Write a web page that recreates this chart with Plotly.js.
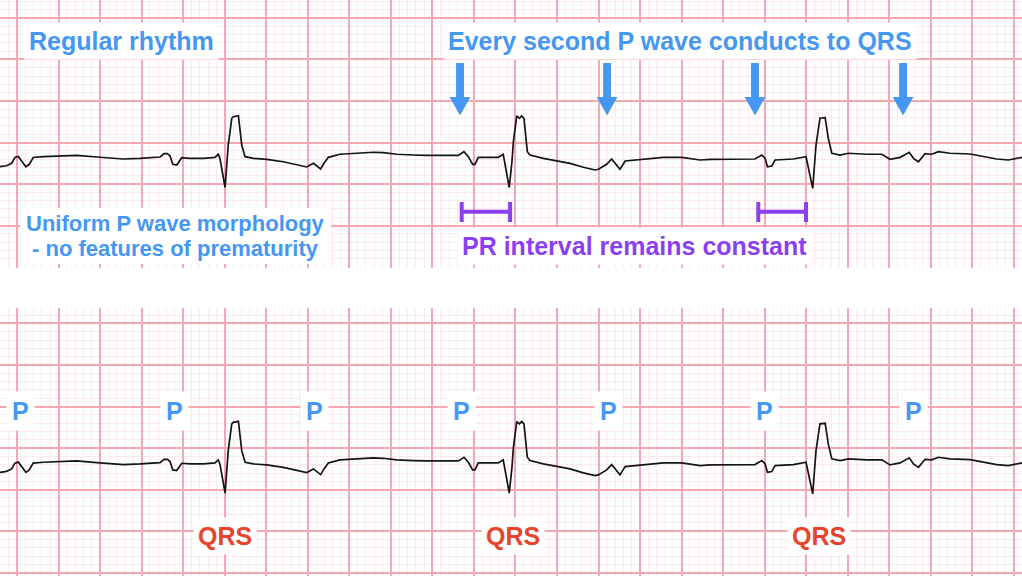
<!DOCTYPE html>
<html>
<head>
<meta charset="utf-8">
<script src="https://cdn.plot.ly/plotly-3.0.1.min.js"></script>
<style>
  html, body { margin: 0; padding: 0; background: #ffffff; }
  #chart { width: 1022px; height: 576px; }
</style>
</head>
<body>
<div id="chart"></div>
<script>
// ECG rhythm strip, time in ms, amplitude in mV
const timeMs = [-82, -50, -26, -10, 6, 18, 43, 59, 78, 127, 199, 287, 384, 448, 512, 592, 673, 689, 708, 724,
  737, 750, 769, 793, 833, 897, 953, 969, 977, 1002, 1017, 1034, 1041, 1058, 1066, 1082, 1098, 1138, 1202, 1282,
  1347, 1395, 1427, 1440, 1462, 1478, 1499, 1555, 1636, 1716, 1764, 1828, 1908, 1973, 2125, 2152, 2173, 2194, 2205, 2221,
  2262, 2317, 2341, 2358, 2370, 2383, 2390, 2406, 2419, 2430, 2441, 2457, 2470, 2534, 2599, 2663, 2727, 2783, 2799, 2839,
  2863, 2884, 2903, 2928, 2984, 3048, 3112, 3200, 3256, 3289, 3337, 3433, 3553, 3586, 3602, 3613, 3634, 3650, 3738, 3799,
  3815, 3831, 3847, 3866, 3891, 3906, 3923, 3963, 4003, 4091, 4164, 4203, 4252, 4296, 4316, 4340, 4372, 4404, 4436, 4492,
  4589, 4653, 4717, 4773, 4839];
const voltageMv = [-0.105, -0.093, -0.064, 0.006, 0.018, -0.024, -0.105, -0.076, 0.006, 0.016, 0.024, 0.032, 0.012, -0.004, -0.012, -0.004, 0.004, 0.012, 0.052, 0.052,
  0.024, -0.076, -0.084, 0.004, -0.004, -0.004, 0.008, 0.045, -0.004, -0.355, 0.156, 0.478, 0.497, 0.506, 0.509, 0.156, 0.016, -0.004, -0.016, -0.045,
  -0.076, -0.108, -0.064, -0.093, -0.132, -0.064, 0.008, 0.045, 0.060, 0.069, 0.064, 0.045, 0.036, 0.032, 0.032, 0.076, 0.016, -0.076, -0.076, 0.008,
  0.008, 0.008, 0.045, -0.165, -0.355, -0.045, 0.196, 0.506, 0.478, 0.506, 0.478, 0.076, 0.036, -0.004, -0.036, -0.064, -0.112, -0.144, -0.136, -0.076,
  -0.012, -0.084, -0.136, -0.036, -0.024, -0.012, 0.008, 0.008, -0.012, -0.024, -0.016, -0.016, -0.012, 0.036, -0.004, -0.105, -0.096, -0.024, -0.012, 0.016,
  -0.165, -0.365, 0.156, 0.478, 0.485, 0.237, 0.057, 0.036, 0.057, 0.045, 0.045, -0.016, 0.008, 0.069, -0.004, -0.045, 0.052, 0.045, 0.076, 0.057,
  0.048, 0.016, -0.012, -0.024, 0.008];

// Annotation anchors (ms)
const pWaveTimes = [18, 756, 1430, 2141, 2847, 3601, 4315];
const qrsTimes = [1001, 2387, 3863];
const arrowTimes = [2133, 2841, 3553, 4266];
const prStart = [2141, 3569];
const prEnd = [2374, 3799];

const BLUE = '#4597f2';
const PURPLE = '#8b3ff2';
const RED = '#e8432b';
const FONT = 'Liberation Sans, Arial, Helvetica, sans-serif';

const MAJOR = '#f4a8b1';
const MINOR = '#fde9ed';

function xAxis(anchor) {
  return {
    anchor: anchor, domain: [0, 1], range: [-81.85, 4838.7],
    tick0: 0, dtick: 200, showgrid: true, gridcolor: MAJOR, gridwidth: 2,
    minor: { tick0: 0, dtick: 40, showgrid: true, gridcolor: MINOR, gridwidth: 1 },
    showticklabels: false, ticks: '', zeroline: false, showline: false, fixedrange: true
  };
}
function yAxis(anchor, domain, range) {
  return {
    anchor: anchor, domain: domain, range: range,
    tick0: 0.1866, dtick: 0.5, showgrid: true, gridcolor: MAJOR, gridwidth: 2,
    minor: { tick0: 0.1866, dtick: 0.1, showgrid: true, gridcolor: MINOR, gridwidth: 1 },
    showticklabels: false, ticks: '', zeroline: false, showline: false, fixedrange: true
  };
}

const traces = [
  { x: timeMs, y: voltageMv, xaxis: 'x', yaxis: 'y', mode: 'lines', line: { color: '#141414', width: 1.7 }, hoverinfo: 'skip' },
  { x: timeMs, y: voltageMv, xaxis: 'x2', yaxis: 'y2', mode: 'lines', line: { color: '#141414', width: 1.7 }, hoverinfo: 'skip' }
];

const annotations = [];
function label(text, x, y, xref, yref, size, color, bg, pad) {
  annotations.push({
    text: text, x: x, y: y, xref: xref, yref: yref, showarrow: false,
    xanchor: 'center', yanchor: 'middle',
    font: { family: FONT, size: size, color: color, weight: 700 },
    bgcolor: bg ? '#ffffff' : 'rgba(0,0,0,0)', borderpad: pad
  });
}
label('Regular rhythm', 503, 1.414, 'x', 'y', 25, BLUE, true, 4);
label('Every second P wave conducts to QRS', 3192, 1.414, 'x', 'y', 25, BLUE, true, 4);
label('Uniform P wave morphology', 763, -0.794, 'x', 'y', 22, BLUE, false, 0);
label('- no features of prematurity', 763, -1.092, 'x', 'y', 22, BLUE, false, 0);
label('PR interval remains constant', 2975, -1.059, 'x', 'y', 25, PURPLE, true, 4);
pWaveTimes.forEach(t => label('P', t, 0.628, 'x2', 'y2', 25, BLUE, true, 5));
qrsTimes.forEach(t => label('QRS', t, -0.874, 'x2', 'y2', 25, RED, true, 4));

const shapes = [];
// white box behind the two-line note
shapes.push({ type: 'rect', xref: 'paper', yref: 'paper', x0: 20 / 1022, x1: 331 / 1022,
  y0: 1 - 264 / 576, y1: 1 - 208 / 576, fillcolor: '#ffffff', line: { width: 0 }, layer: 'above' });
// downward arrows
arrowTimes.forEach(t => {
  shapes.push({ type: 'rect', xref: 'x', yref: 'y', x0: t - 19, x1: t + 19, y0: 0.72, y1: 1.143,
    fillcolor: BLUE, line: { width: 0 }, layer: 'above' });
  shapes.push({ type: 'path', xref: 'x', yref: 'y',
    path: `M ${t - 50},0.734 L ${t + 50},0.734 L ${t},0.512 Z`,
    fillcolor: BLUE, line: { width: 0 }, layer: 'above' });
});
// PR interval brackets
prStart.forEach((s, i) => {
  const e = prEnd[i];
  shapes.push({ type: 'line', xref: 'x', yref: 'y', x0: s, x1: e, y0: -0.646, y1: -0.646, line: { color: PURPLE, width: 4 }, layer: 'above' });
  shapes.push({ type: 'line', xref: 'x', yref: 'y', x0: s, x1: s, y0: -0.53, y1: -0.77, line: { color: PURPLE, width: 4 }, layer: 'above' });
  shapes.push({ type: 'line', xref: 'x', yref: 'y', x0: e, x1: e, y0: -0.53, y1: -0.77, line: { color: PURPLE, width: 4 }, layer: 'above' });
});

const layout = {
  width: 1022, height: 576,
  margin: { l: 0, r: 0, t: 0, b: 0, pad: 0 },
  paper_bgcolor: '#ffffff', plot_bgcolor: '#ffffff',
  showlegend: false,
  xaxis: xAxis('y'),
  yaxis: yAxis('x', [1 - 268 / 576, 1], [-1.324, 1.9017]),
  xaxis2: xAxis('y2'),
  yaxis2: yAxis('x2', [0, 1 - 308 / 576], [-1.3529, 1.8728]),
  annotations: annotations,
  shapes: shapes
};

Plotly.newPlot('chart', traces, layout, { staticPlot: true, displayModeBar: false });
</script>
</body>
</html>
